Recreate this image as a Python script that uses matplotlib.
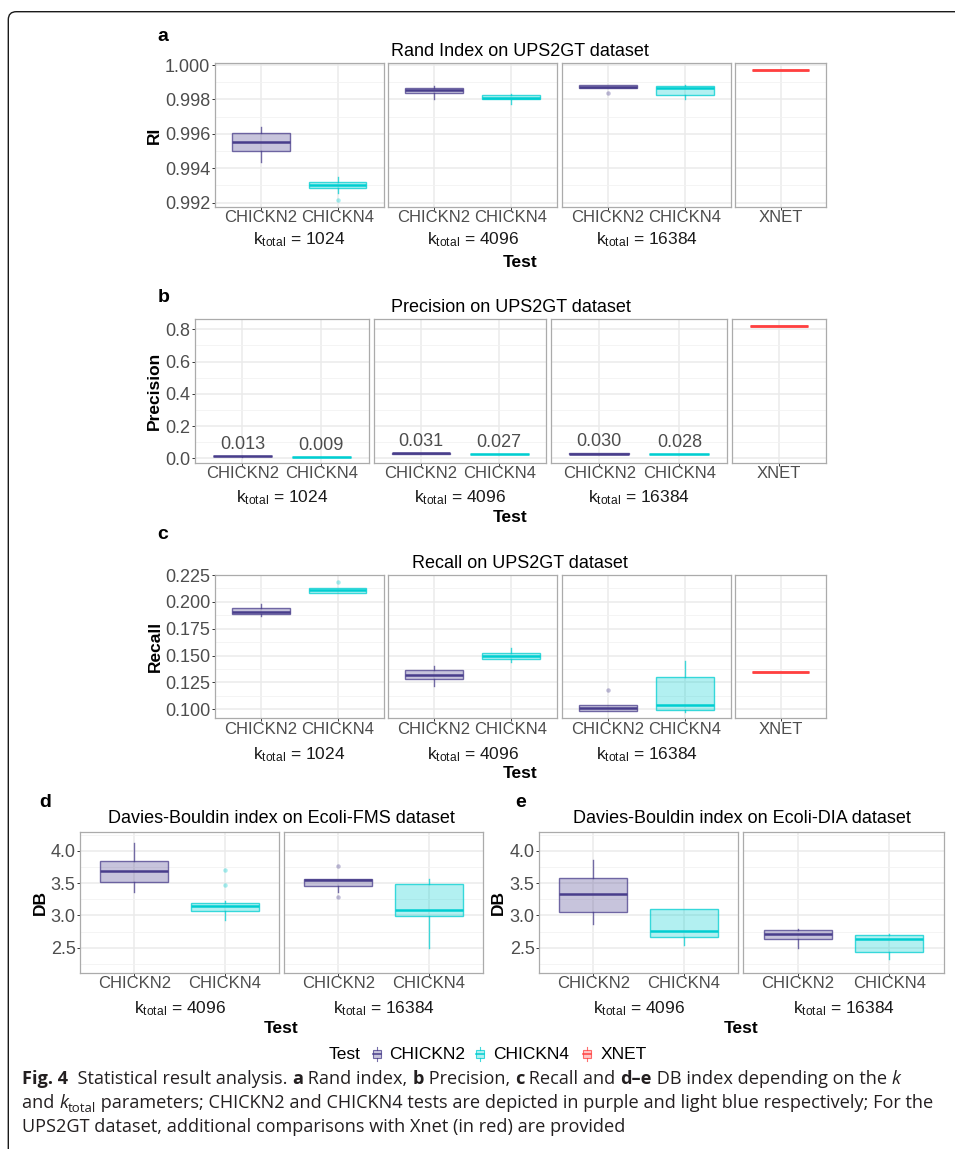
"""Clustering scores of CHICKN2 / CHICKN4 runs against XNET, box summaries per k_total."""
import matplotlib
matplotlib.use("Agg")
import matplotlib.pyplot as plt
from matplotlib.colors import to_rgba
from matplotlib.font_manager import FontProperties
from matplotlib.patches import Rectangle, PathPatch
from matplotlib.path import Path

W, H = 955, 1149
plt.rcParams["font.family"] = ["Liberation Sans", "DejaVu Sans"]

C2, C4, CX = "#483D8B", "#00CED1", "#FF4040"
TICK_TXT, GRID, BORDER = "#4D4D4D", "#EBEBEB", "#ABABAB"

K_TOTAL = ["1024", "4096", "16384"]
K_TOTAL_DB = ["4096", "16384"]
TESTS = ["CHICKN2", "CHICKN4"]

# five-number summaries: whisker low, q1, median, q3, whisker high (one row per k_total)
RI_C2 = [[0.99438, 0.99498, 0.99554, 0.99604, 0.99640],
         [0.99802, 0.99837, 0.99853, 0.99866, 0.99878],
         [0.99866, 0.99866, 0.99874, 0.99884, 0.99884]]
RI_C2_OUT = [[], [], [0.99835]]
RI_C4 = [[0.99256, 0.99283, 0.99304, 0.99321, 0.99352],
         [0.99773, 0.99800, 0.99810, 0.99824, 0.99833],
         [0.99802, 0.99824, 0.99868, 0.99878, 0.99884]]
RI_C4_OUT = [[0.99217], [], []]
RI_XNET = 0.99971

PREC_C2 = [[0.011, 0.012, 0.013, 0.014, 0.015],
           [0.029, 0.030, 0.031, 0.032, 0.033],
           [0.026, 0.029, 0.030, 0.031, 0.032]]
PREC_C4 = [[0.008, 0.0085, 0.009, 0.0095, 0.010],
           [0.024, 0.026, 0.027, 0.028, 0.029],
           [0.027, 0.0275, 0.028, 0.0285, 0.029]]
PREC_XNET = 0.823

REC_C2 = [[0.1872, 0.1887, 0.1909, 0.1940, 0.1977],
          [0.1220, 0.1279, 0.1323, 0.1369, 0.1403],
          [0.0981, 0.0981, 0.1012, 0.1037, 0.1037]]
REC_C2_OUT = [[], [], [0.1180]]
REC_C4 = [[0.2080, 0.2086, 0.2107, 0.2126, 0.2126],
          [0.1437, 0.1468, 0.1496, 0.1524, 0.1571],
          [0.0975, 0.0997, 0.1040, 0.1298, 0.1447]]
REC_C4_OUT = [[0.2188], [], []]
REC_XNET = 0.135

FMS_C2 = [[3.36, 3.524, 3.688, 3.84, 4.123],
          [3.37, 3.457, 3.544, 3.57, 3.57]]
FMS_C2_OUT = [[], [3.77, 3.288]]
FMS_C4 = [[2.935, 3.073, 3.14, 3.196, 3.22],
          [2.50, 2.996, 3.078, 3.488, 3.56]]
FMS_C4_OUT = [[3.708, 3.467], []]

DIA_C2 = [[2.868, 3.048, 3.329, 3.58, 3.862],
          [2.495, 2.633, 2.72, 2.771, 2.79]]
DIA_C4 = [[2.541, 2.664, 2.761, 3.094, 3.094],
          [2.331, 2.438, 2.643, 2.694, 2.71]]

fig = plt.figure(figsize=(W / 100, H / 100), dpi=100)
ov = fig.add_axes([0, 0, 1, 1])
ov.set_xlim(0, W)
ov.set_ylim(H, 0)
ov.axis("off")


def add_facet(x0, x1, y0, y1):
    return fig.add_axes([x0 / W, 1 - y1 / H, (x1 - x0) / W, (y1 - y0) / H])


def draw_box(ax, pos, s, out, color, med_lw=1.8):
    lo, q1, med, q3, hi = s
    ax.bxp([dict(whislo=lo, q1=q1, med=med, q3=q3, whishi=hi, fliers=out)],
           positions=[pos], widths=0.75, patch_artist=True, showcaps=False,
           manage_ticks=False,
           boxprops=dict(facecolor=to_rgba(color, 0.3), edgecolor=to_rgba(color, 0.75), lw=1.0),
           medianprops=dict(color=color, lw=med_lw, solid_capstyle="butt"),
           whiskerprops=dict(color=to_rgba(color, 0.75), lw=1.0),
           flierprops=dict(marker="o", markersize=3.2, markeredgecolor="none",
                           markerfacecolor=to_rgba(color, 0.35)))


def style_facet(ax, ylim, ticks, minor, fmt, first, cats):
    ax.set_ylim(*ylim)
    ax.set_xlim(0.4, len(cats) + 0.6)
    ax.set_yticks(ticks)
    ax.set_yticks(minor, minor=True)
    ax.set_xticks(range(1, len(cats) + 1))
    ax.set_xticklabels(cats)
    ax.grid(which="major", color=GRID, lw=1.1)
    ax.grid(which="minor", axis="y", color="#F2F2F2", lw=0.6)
    ax.set_axisbelow(True)
    for sp in ax.spines.values():
        sp.set_color(BORDER)
        sp.set_linewidth(0.9)
    ax.tick_params(which="minor", length=0)
    ax.tick_params(axis="x", length=2.0, width=0.7, color="#333333", pad=0.5,
                   labelsize=12, labelcolor=TICK_TXT)
    if first:
        ax.set_yticklabels([fmt % v for v in ticks])
        ax.tick_params(axis="y", length=2.2, width=0.7, color="#333333", pad=1,
                       labelsize=13, labelcolor=TICK_TXT)
    else:
        ax.tick_params(axis="y", length=0, labelleft=False)


# ---------------- panels a-c: UPS2GT with XNET facet
UPS = [
    # letter, title, ylabel, facet x-extents, top, bottom, ylim, ticks, minor, fmt,
    # (c2, c2 out, c4, c4 out, xnet), letter baseline, title baseline, strip baseline, test baseline, ylabel x
    ("a", "Rand Index on UPS2GT dataset", "RI",
     [(214.6, 383.7), (388, 557.2), (562, 731), (735.4, 826)], 63.3, 207,
     (0.99175, 1.0001), [0.992, 0.994, 0.996, 0.998, 1.000], [0.993, 0.995, 0.997, 0.999], "%.3f",
     (RI_C2, RI_C2_OUT, RI_C4, RI_C4_OUT, RI_XNET), 40.7, 56, 244, 266.7, 154.3),
    ("b", "Precision on UPS2GT dataset", "Precision",
     [(195, 368.7), (373.9, 546.2), (551.4, 727.3), (732, 826)], 319.3, 462.7,
     (-0.027, 0.862), [0.0, 0.2, 0.4, 0.6, 0.8], [0.1, 0.3, 0.5, 0.7], "%.1f",
     (PREC_C2, [[], [], []], PREC_C4, [[], [], []], PREC_XNET), 301.7, 312.3, 502.7, 521.7, 154.7),
    ("c", "Recall on UPS2GT dataset", "Recall",
     [(214.6, 383.7), (388, 557.2), (562, 731), (735.4, 826)], 574.7, 718.3,
     (0.0916, 0.2253), [0.100, 0.125, 0.150, 0.175, 0.200, 0.225],
     [0.1125, 0.1375, 0.1625, 0.1875, 0.2125], "%.3f",
     (REC_C2, REC_C2_OUT, REC_C4, REC_C4_OUT, REC_XNET), 539, 567.7, 759, 778, 155.6),
]

for (letter, title, ylabel, xs, top, bot, ylim, ticks, minor, fmt, series,
     let_b, title_b, strip_b, test_b, ylab_x) in UPS:
    c2, c2_out, c4, c4_out, xnet = series
    for i, (x0, x1) in enumerate(xs):
        ax = add_facet(x0, x1, top, bot)
        if i < 3:
            style_facet(ax, ylim, ticks, minor, fmt, i == 0, TESTS)
            draw_box(ax, 1, c2[i], c2_out[i], C2)
            draw_box(ax, 2, c4[i], c4_out[i], C4)
            if letter == "b":
                for pos, s in ((1, c2[i]), (2, c4[i])):
                    ax.annotate("%.3f" % s[2], (pos, s[2]), xytext=(0, 2.3),
                                textcoords="offset points", ha="center", va="bottom",
                                fontsize=13, color=TICK_TXT)
            ov.text((x0 + x1) / 2, strip_b, r"$\mathregular{k_{total}}$ = " + K_TOTAL[i],
                    ha="center", va="baseline", fontsize=12.5, color="#1A1A1A")
        else:
            style_facet(ax, ylim, ticks, minor, fmt, False, ["XNET"])
            draw_box(ax, 1, [xnet] * 5, [], CX, med_lw=2.0)
    mid = (xs[0][0] + xs[-1][1]) / 2
    ov.text(mid, title_b, title, ha="center", va="baseline", fontsize=13, color="black")
    ov.text(mid, test_b, "Test", ha="center", va="baseline", fontsize=12.5,
            fontweight="bold", color="black")
    ov.text(157.5, let_b, letter, ha="left", va="baseline", fontsize=14,
            fontweight="bold", color="black")
    ov.text(ylab_x, (top + bot) / 2, ylabel, rotation=90, ha="center", va="center",
            fontsize=12.5, fontweight="bold", color="black")

# ---------------- panels d-e: Davies-Bouldin on Ecoli sets
DB = [
    ("d", "Davies-Bouldin index on Ecoli-FMS dataset", [(80, 279), (284, 483)],
     FMS_C2, FMS_C2_OUT, FMS_C4, FMS_C4_OUT, 39.3, 40),
    ("e", "Davies-Bouldin index on Ecoli-DIA dataset", [(539, 738), (743, 944)],
     DIA_C2, [[], []], DIA_C4, [[], []], 515, 498.7),
]
DB_TOP, DB_BOT = 832, 973
for letter, title, xs, c2, c2_out, c4, c4_out, let_x, ylab_x in DB:
    for i, (x0, x1) in enumerate(xs):
        ax = add_facet(x0, x1, DB_TOP, DB_BOT)
        style_facet(ax, (2.11, 4.29), [2.5, 3.0, 3.5, 4.0], [2.25, 2.75, 3.25, 3.75, 4.25],
                    "%.1f", i == 0, TESTS)
        draw_box(ax, 1, c2[i], c2_out[i], C2)
        draw_box(ax, 2, c4[i], c4_out[i], C4)
        ov.text((x0 + x1) / 2, 1013.3, r"$\mathregular{k_{total}}$ = " + K_TOTAL_DB[i],
                ha="center", va="baseline", fontsize=12.5, color="#1A1A1A")
    mid = (xs[0][0] + xs[-1][1]) / 2
    ov.text(mid, 823.3, title, ha="center", va="baseline", fontsize=13, color="black")
    ov.text(mid, 1033.3, "Test", ha="center", va="baseline", fontsize=12.5,
            fontweight="bold", color="black")
    ov.text(let_x, 806.7, letter, ha="left", va="baseline", fontsize=14,
            fontweight="bold", color="black")
    ov.text(ylab_x, (DB_TOP + DB_BOT) / 2, "DB", rotation=90, ha="center", va="center",
            fontsize=12.5, fontweight="bold", color="black")

# ---------------- shared legend
LEG_Y = 1059
ov.text(329, LEG_Y, "Test", ha="left", va="baseline", fontsize=12.5, color="black")
for cx, name, col in ((376.6, "CHICKN2", C2), (480, "CHICKN4", C4), (587.4, "XNET", CX)):
    ov.add_patch(Rectangle((cx - 4, 1049.5), 8, 8.5, facecolor=to_rgba(col, 0.3),
                           edgecolor=to_rgba(col, 0.75), lw=0.8))
    ov.plot([cx, cx], [1046.5, 1049.5], color=to_rgba(col, 0.75), lw=0.8)
    ov.plot([cx, cx], [1058, 1061], color=to_rgba(col, 0.75), lw=0.8)
    ov.plot([cx - 4, cx + 4], [1053.75, 1053.75], color=col, lw=1.1)
    ov.text(cx + 13, LEG_Y, name, ha="left", va="baseline", fontsize=12.5, color="black")

# ---------------- caption, set run by run
CAP = ["Open Sans", "DejaVu Sans"]
CAP_SIZE = 13.1
renderer = fig.canvas.get_renderer()


def run_width(s, fp):
    w = renderer.get_text_width_height_descent("|" + s + "|", fp, ismath=False)[0]
    return w - renderer.get_text_width_height_descent("||", fp, ismath=False)[0]


def caption_line(x, y, runs):
    for s, style in runs:
        size = CAP_SIZE * (0.72 if style == "sub" else 1.0)
        fp = FontProperties(family=CAP, size=size,
                            weight="bold" if style == "bold" else "normal",
                            style="italic" if style == "italic" else "normal")
        dy = 4 if style == "sub" else 0
        ov.text(x, y + dy, s, fontproperties=fp, ha="left", va="baseline", color="#231F20")
        x += run_width(s, fp)


caption_line(22, 1084, [("Fig. 4", "bold"), ("  Statistical result analysis. ", ""), ("a", "bold"),
                        (" Rand index, ", ""), ("b", "bold"), (" Precision, ", ""), ("c", "bold"),
                        (" Recall and ", ""), ("d–e", "bold"),
                        (" DB index depending on the ", ""), ("k", "italic")])
caption_line(22, 1108, [("and ", ""), ("k", "italic"), ("total", "sub"),
                        (" parameters; CHICKN2 and CHICKN4 tests are depicted in purple and "
                         "light blue respectively; For the", "")])
caption_line(22, 1132, [("UPS2GT dataset, additional comparisons with Xnet (in red) are provided", "")])

# ---------------- figure frame, rounded at the top-left
R = 8
frame = Path([(8.3, H + 2), (8.3, 11.7 + R), (8.3, 11.7), (8.3 + R, 11.7), (W + 2, 11.7)],
             [Path.MOVETO, Path.LINETO, Path.CURVE3, Path.CURVE3, Path.LINETO])
ov.add_patch(PathPatch(frame, facecolor="none", edgecolor="#1A1A1A", lw=1.0,
                       clip_on=False))

fig.savefig("out.png", dpi=100, facecolor="white")
